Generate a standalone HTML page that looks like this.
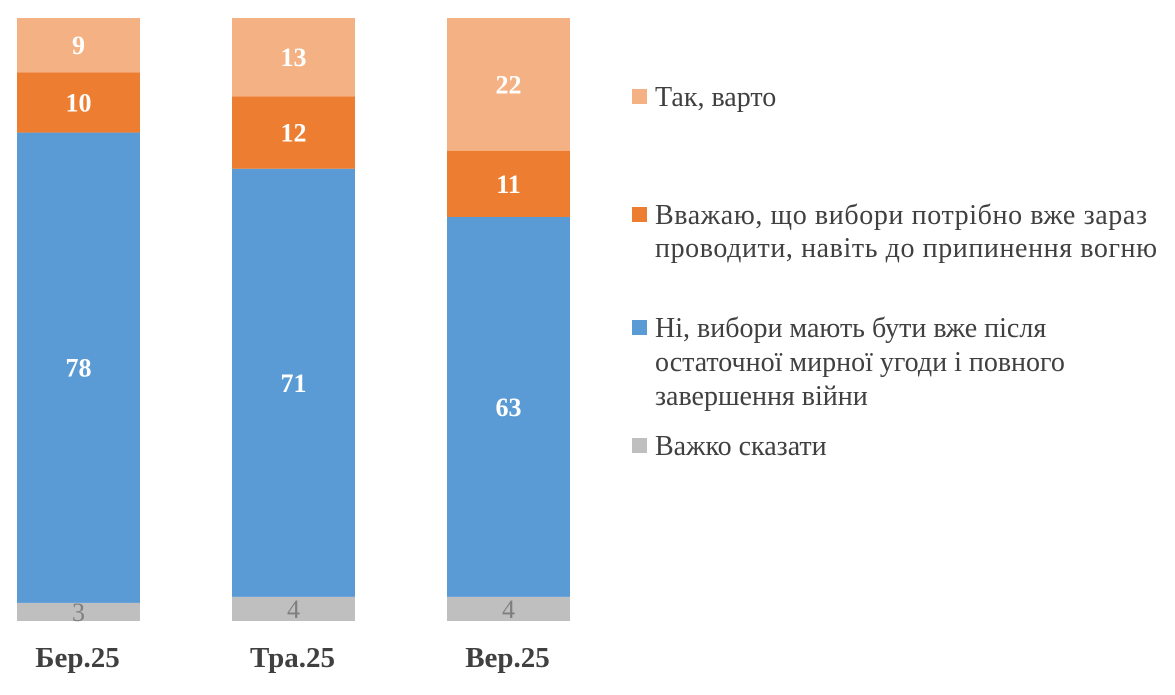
<!DOCTYPE html>
<html><head><meta charset="utf-8"><style>
body{margin:0;background:#fff;}
svg{display:block;font-family:"Liberation Serif",serif;}
</style></head><body>
<svg id="c" width="1175" height="695">
<g id="bars"></g>
<g id="legend" font-size="28" fill="#404040">
 <rect x="632" y="89" width="15" height="15" fill="#F4B183"/>
 <text x="655" y="106">Так, варто</text>
 <rect x="632" y="207" width="15" height="15" fill="#ED7D31"/>
 <text x="655" y="224" textLength="492">Вважаю, що вибори потрібно вже зараз</text>
 <text x="655" y="257" textLength="502">проводити, навіть до припинення вогню</text>
 <rect x="632" y="320" width="15" height="15" fill="#5B9BD5"/>
 <text x="655" y="337">Ні, вибори мають бути вже після</text>
 <text x="655" y="371">остаточної мирної угоди і повного</text>
 <text x="655" y="405">завершення війни</text>
 <rect x="632" y="438" width="15" height="15" fill="#BFBFBF"/>
 <text x="655" y="455">Важко сказати</text>
</g>
</svg>
<script>
const categories=["Бер.25","Тра.25","Вер.25"];
const hardToSay=[3,4,4];
const noAfterWar=[78,71,63];
const votingNow=[10,12,11];
const yesWorth=[9,13,22];
const svg=document.getElementById('bars');
const NS="http://www.w3.org/2000/svg";
const y0=621, pxPer=6.03, barW=123;
function xPos(i){return 17+i*215;}
function yScale(v){return y0-v*pxPer;}
const series=[
 {vals:hardToSay,color:"#BFBFBF",tc:"#7F7F7F",bold:false,name:"hard"},
 {vals:noAfterWar,color:"#5B9BD5",tc:"#fff",bold:true,name:"no"},
 {vals:votingNow,color:"#ED7D31",tc:"#fff",bold:true,name:"now"},
 {vals:yesWorth,color:"#F4B183",tc:"#fff",bold:true,name:"yes"}];
categories.forEach((c,i)=>{
 let cum=0;
 series.forEach(s=>{
  const v=s.vals[i];
  const yt=yScale(cum+v), yb=yScale(cum);
  const r=document.createElementNS(NS,'rect');
  r.setAttribute('x',xPos(i));r.setAttribute('y',yt);
  r.setAttribute('width',barW);r.setAttribute('height',yb-yt);
  r.setAttribute('fill',s.color);
  
  
  svg.appendChild(r);
  const t=document.createElementNS(NS,'text');
  t.setAttribute('x',xPos(i)+barW/2);t.setAttribute('y',(yt+yb)/2+9);
  t.setAttribute('text-anchor','middle');t.setAttribute('font-size','26');
  t.setAttribute('fill',s.tc);if(s.bold)t.setAttribute('font-weight','bold');
  t.textContent=v;
  
  
  svg.appendChild(t);
  cum+=v;
 });
 const l=document.createElementNS(NS,'text');
 l.setAttribute('x',xPos(i)+barW/2-1);l.setAttribute('y',667);
 l.setAttribute('text-anchor','middle');l.setAttribute('font-size','29');
 l.setAttribute('font-weight','bold');l.setAttribute('fill','#404040');
 l.textContent=c;
 
 
 svg.appendChild(l);
});
</script>
</body></html>
